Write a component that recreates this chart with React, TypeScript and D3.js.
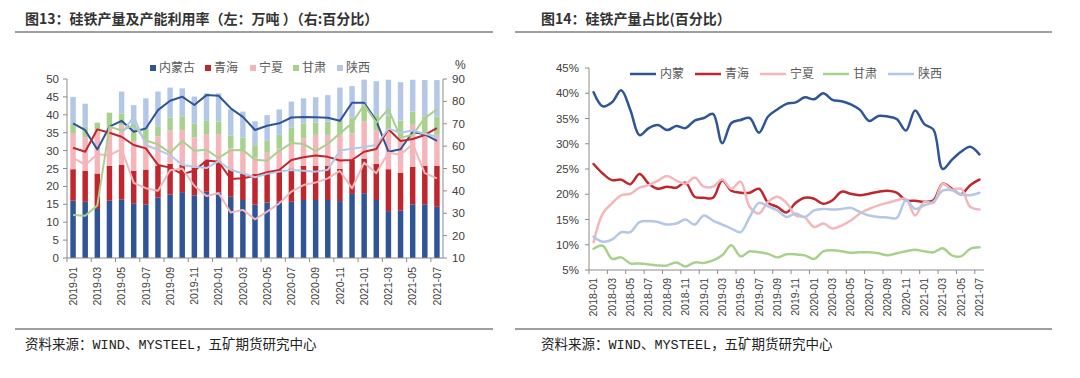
import React from 'react';
import * as d3 from 'd3';

// ---------- Left chart data (图13) ----------
const cats1 = ['2019-01','2019-02','2019-03','2019-04','2019-05','2019-06','2019-07','2019-08','2019-09','2019-10','2019-11','2019-12',
  '2020-01','2020-02','2020-03','2020-04','2020-05','2020-06','2020-07','2020-08','2020-09','2020-10','2020-11','2020-12',
  '2021-01','2021-02','2021-03','2021-04','2021-05','2021-06','2021-07'];
const prodNM = [16.0,15.7,13.7,16.0,16.4,15.3,15.0,16.9,17.7,18.4,17.5,18.5,18.3,17.1,16.2,14.9,15.5,15.8,15.7,16.2,16.2,16.2,15.9,17.9,18.1,16.2,13.1,13.2,15.0,15.0,14.3];
const prodQH = [8.8,8.6,9.9,9.7,9.6,9.1,9.7,8.8,8.6,7.6,7.8,8.6,8.8,7.7,7.4,8.6,8.1,8.8,9.3,9.5,9.5,9.5,9.0,9.5,9.7,10.1,11.7,10.6,10.5,10.7,11.4];
const prodNX = [9.9,9.4,11.7,11.0,11.0,8.1,8.3,8.3,9.3,9.7,8.4,7.5,7.5,5.8,6.6,4.7,5.8,6.0,7.2,7.7,8.7,8.7,9.5,7.4,10.3,9.5,10.5,10.1,11.7,9.1,8.7];
const prodGS = [2.7,3.0,2.5,3.9,3.3,2.8,3.0,2.8,3.6,3.9,3.8,3.7,3.5,3.6,3.4,3.3,3.3,3.8,4.3,4.2,3.4,3.7,4.1,4.4,4.2,4.1,4.5,4.5,3.7,4.7,5.1];
const prodSX = [7.6,6.4,0,0,6.2,7.4,8.6,9.7,8.4,7.8,7.6,7.7,7.9,7.3,7.3,6.7,7.2,7.1,7.2,7.0,7.1,7.4,9.1,8.8,7.5,9.5,10.0,10.7,8.9,10.2,10.2];

const utilNM = [70.2,67.1,58.5,68.7,71.3,66.4,67.9,76.1,80.3,82.1,78.4,82.8,82.5,76.9,73.1,67.2,69.1,70.2,72.8,73.0,72.9,72.7,71.3,79.4,79.4,71.3,57.5,58.6,66.3,65.3,62.3];
const utilQH = [59.3,57.5,67.5,66.0,64.2,60.5,59.0,51.6,50.4,47.5,49.0,53.6,53.0,45.3,45.6,46.7,48.3,49.3,53.8,55.0,55.8,55.2,53.6,53.8,57.5,58.7,67.5,62.3,63.2,65.0,68.0];
const utilNX = [54.8,51.6,56.4,55.9,58.8,43.6,41.2,40.1,49.2,50.0,42.3,37.7,38.9,30.3,31.5,27.3,30.7,34.4,39.7,42.6,43.7,45.6,48.9,41.1,52.6,47.9,57.1,56.1,61.0,47.9,45.6];
const utilGS = [29.2,28.9,33.5,68.7,67.0,69.4,62.5,60.8,57.0,62.3,57.9,58.4,54.7,58.2,58.3,53.9,53.5,57.9,61.4,61.0,57.8,61.0,65.7,70.2,78.5,70.5,76.5,63.8,65.0,72.5,76.5];
const utilSX: (number | null)[] = [null,null,null,null,65.5,73.2,60.5,58.3,56.0,51.6,50.8,50.2,53.3,49.3,47.9,46.1,47.6,48.6,49.3,49.0,48.6,49.4,58.0,58.8,59.6,60.5,67.8,66.0,67.0,65.5,64.2];

const names1 = ['内蒙古','青海','宁夏','甘肃','陕西'];
const leftTicks = [0,5,10,15,20,25,30,35,40,45,50];
const rightTicks = [10,20,30,40,50,60,70,80,90];

// ---------- Right chart data (图14) ----------
const cats2 = ['2018-01','2018-02','2018-03','2018-04','2018-05','2018-06','2018-07','2018-08','2018-09','2018-10','2018-11','2018-12',
  '2019-01','2019-02','2019-03','2019-04','2019-05','2019-06','2019-07','2019-08','2019-09','2019-10','2019-11','2019-12',
  '2020-01','2020-02','2020-03','2020-04','2020-05','2020-06','2020-07','2020-08','2020-09','2020-10','2020-11','2020-12',
  '2021-01','2021-02','2021-03','2021-04','2021-05','2021-06','2021-07'];
const shareNM = [40.2,37.4,38.2,40.6,36.7,31.7,33.1,33.7,32.7,33.5,33.1,34.6,35.1,35.9,30.1,34.1,34.7,35.1,32.2,35.4,36.8,37.9,38.2,39.2,38.8,40.0,38.7,38.4,37.8,36.7,34.5,35.5,35.4,34.9,32.6,36.6,33.9,32.8,25.0,26.8,28.4,29.4,27.9];
const shareQH = [26.0,24.1,22.8,22.9,22.0,24.0,22.1,21.1,21.5,21.3,22.3,19.5,19.3,19.3,22.7,20.7,20.3,20.3,21.1,18.3,17.5,16.4,18.3,19.3,19.1,18.1,18.8,20.5,20.1,19.8,20.1,20.5,20.7,20.3,18.8,18.7,18.5,18.8,22.1,21.1,20.0,21.8,22.9];
const shareNX = [10.5,16.2,18.2,19.8,20.1,21.3,21.8,22.7,23.6,22.7,22.1,23.3,21.5,21.5,22.9,21.1,22.5,17.5,16.2,18.5,19.5,18.3,15.8,15.4,13.5,14.2,13.2,13.8,14.8,16.2,17.1,17.8,18.3,18.8,19.1,15.8,18.5,18.3,22.1,20.9,21.1,17.5,17.0];
const shareGS = [9.2,9.8,7.2,7.5,6.3,6.3,6.1,5.9,5.9,6.5,5.7,6.5,6.4,6.9,7.9,9.9,7.7,8.7,8.5,8.2,7.5,8.1,8.1,7.9,7.2,8.7,8.9,8.7,8.4,8.5,8.5,8.3,7.9,8.3,8.7,9.0,8.7,8.5,9.3,7.9,7.7,9.2,9.5];
const shareSX = [11.6,10.6,11.0,12.5,12.5,14.5,14.7,14.5,14.0,14.2,15.0,14.0,15.8,14.8,14.0,13.2,12.5,15.5,18.3,17.6,16.8,15.5,16.2,15.5,16.8,17.1,17.0,17.1,17.3,16.5,15.8,15.5,15.4,15.3,18.8,17.1,17.8,18.5,20.7,20.8,20.0,19.8,20.3];
const names2 = ['内蒙','青海','宁夏','甘肃','陕西'];
const shareTicks = [5,10,15,20,25,30,35,40,45];

// ---------- styles ----------
const colors = ['#2F5597', '#C0262D', '#F4B6BA', '#A9D18E', '#B4C7E7'];
const CJK = "'Noto Sans CJK SC', 'Noto Sans', sans-serif";
const NUM = "'Liberation Sans', Arial, sans-serif";
const MONO = "'Liberation Mono', 'DejaVu Sans Mono', monospace";
const AXIS = '#8C8C8C';
const TXT = '#404040';

function Footer({ x }: { x: number }) {
  return (
    <text x={x} y={349} fontSize={13.5} fill="#222" fontFamily={CJK}>
      <tspan>资料来源：</tspan>
      <tspan fontFamily={MONO}>WIND</tspan>
      <tspan>、</tspan>
      <tspan fontFamily={MONO}>MYSTEEL</tspan>
      <tspan>，五矿期货研究中心</tspan>
    </text>
  );
}

function LeftChart() {
  const x0 = 67, x1 = 443, yTop = 79, yBot = 258;
  const x = d3.scaleBand<string>().domain(cats1).range([x0, x1]).paddingInner(0.55).paddingOuter(0.275);
  const yL = d3.scaleLinear().domain([0, 50]).range([yBot, yTop]);
  const yR = d3.scaleLinear().domain([10, 90]).range([yBot, yTop]);
  const prods = [prodNM, prodQH, prodNX, prodGS, prodSX];
  const utils: (number | null)[][] = [utilNM, utilQH, utilNX, utilGS, utilSX];
  const rows = cats1.map((c, i) => {
    const r: any = { cat: c };
    names1.forEach((n, k) => (r[n] = prods[k][i]));
    return r;
  });
  const stacked = d3.stack<any>().keys(names1)(rows);
  const cx = (c: string) => (x(c) as number) + x.bandwidth() / 2;
  const step = x.step();
  const line = d3.line<number | null>()
    .defined((d) => d != null)
    .x((_, i) => cx(cats1[i]))
    .y((d) => yR(d as number));
  const tickIdx = d3.range(0, cats1.length + 1, 2);
  const legX = [150, 205, 250, 293, 337];
  return (
    <g>
      {stacked.map((s, k) => (
        <g key={k} fill={colors[k]}>
          {s.map((d, i) => (
            <rect key={i} x={x(cats1[i])} width={x.bandwidth()} y={yL(d[1])} height={Math.max(0, yL(d[0]) - yL(d[1]))} />
          ))}
        </g>
      ))}
      {utils.map((u, k) => (
        <path key={k} d={line(u) || ''} fill="none" stroke={colors[k]} strokeWidth={2} strokeLinejoin="round" />
      ))}
      <line x1={x0} x2={x0} y1={yTop} y2={yBot} stroke={AXIS} />
      <line x1={x1} x2={x1} y1={yTop} y2={yBot} stroke={AXIS} />
      <line x1={x0} x2={x1} y1={yBot} y2={yBot} stroke={AXIS} />
      {leftTicks.map((t) => (
        <g key={t}>
          <line x1={x0 - 4} x2={x0} y1={yL(t)} y2={yL(t)} stroke={AXIS} />
          <text x={x0 - 8} y={yL(t)} dy="0.35em" textAnchor="end" fontSize={11.5} fill={TXT} fontFamily={NUM}>{t}</text>
        </g>
      ))}
      {rightTicks.map((t) => (
        <g key={t}>
          <line x1={x1} x2={x1 + 4} y1={yR(t)} y2={yR(t)} stroke={AXIS} />
          <text x={x1 + 9} y={yR(t)} dy="0.35em" fontSize={11.5} fill={TXT} fontFamily={NUM}>{t}</text>
        </g>
      ))}
      <text x={455} y={69} fontSize={12} fill={TXT} fontFamily={NUM}>%</text>
      {tickIdx.map((i) => (
        <line key={i} x1={x0 + i * step} x2={x0 + i * step} y1={yBot} y2={yBot + 4} stroke={AXIS} />
      ))}
      {cats1.map((c, i) => i % 2 === 0 ? (
        <text key={c} transform={`translate(${cx(c)},${yBot + 9}) rotate(-90)`} dy="0.35em" textAnchor="end"
          fontSize={10.5} fill={TXT} fontFamily={NUM}>{c}</text>
      ) : null)}
      {names1.map((n, k) => (
        <g key={n}>
          <rect x={legX[k]} y={65} width={6} height={6} fill={colors[k]} />
          <text x={legX[k] + 9} y={68} dy="0.35em" fontSize={12} fill="#595959" fontFamily={CJK}>{n}</text>
        </g>
      ))}
    </g>
  );
}

function RightChart() {
  const x0 = 589, x1 = 984, yTop = 68, yBot = 270;
  const x = d3.scalePoint<string>().domain(cats2).range([x0, x1]).padding(0.5);
  const step = x.step();
  const y = d3.scaleLinear().domain([5, 45]).range([yBot, yTop]);
  const series = [shareNM, shareQH, shareNX, shareGS, shareSX];
  const line = d3.line<number>()
    .x((_, i) => x(cats2[i]) as number)
    .y((d) => y(d))
    .curve(d3.curveCatmullRom.alpha(0.5));
  const tickIdx = d3.range(0, cats2.length + 1, 2);
  const legX = [630, 695, 760, 823, 888];
  return (
    <g>
      {series.map((s, k) => (
        <path key={k} d={line(s) || ''} fill="none" stroke={colors[k]} strokeWidth={2.5} strokeLinejoin="round" strokeLinecap="round" />
      ))}
      <line x1={x0} x2={x0} y1={yTop} y2={yBot} stroke={AXIS} />
      <line x1={x0} x2={x1} y1={yBot} y2={yBot} stroke={AXIS} />
      {shareTicks.map((t) => (
        <g key={t}>
          <line x1={x0 - 4} x2={x0} y1={y(t)} y2={y(t)} stroke={AXIS} />
          <text x={x0 - 10} y={y(t)} dy="0.35em" textAnchor="end" fontSize={11.5} fill={TXT} fontFamily={NUM}>{t}%</text>
        </g>
      ))}
      {tickIdx.map((i) => (
        <line key={i} x1={x0 + i * step} x2={x0 + i * step} y1={yBot} y2={yBot + 4} stroke={AXIS} />
      ))}
      {cats2.map((c, i) => i % 2 === 0 ? (
        <text key={c} transform={`translate(${x(c)},${yBot + 8}) rotate(-90)`} dy="0.35em" textAnchor="end"
          fontSize={10.5} fill={TXT} fontFamily={NUM}>{c}</text>
      ) : null)}
      {names2.map((n, k) => (
        <g key={n}>
          <line x1={legX[k]} x2={legX[k] + 26} y1={74} y2={74} stroke={colors[k]} strokeWidth={2.5} />
          <text x={legX[k] + 30} y={74} dy="0.35em" fontSize={12} fill="#595959" fontFamily={CJK}>{n}</text>
        </g>
      ))}
    </g>
  );
}

export default function App() {
  return (
    <svg width={1080} height={378} style={{ position: 'absolute', left: 0, top: 0, background: '#fff' }}>
      <rect width={1080} height={378} fill="#fff" />
      <text x={25} y={24} fontSize={14} fontWeight="bold" fill="#333" fontFamily={CJK}>图13：硅铁产量及产能利用率（左：万吨 ）（右:百分比）</text>
      <line x1={15} x2={493} y1={32} y2={32} stroke="#7F7F7F" strokeWidth={1.5} />
      <text x={541} y={24} fontSize={14} fontWeight="bold" fill="#333" fontFamily={CJK}>图14：硅铁产量占比(百分比）</text>
      <line x1={515} x2={1052} y1={32} y2={32} stroke="#7F7F7F" strokeWidth={1.5} />
      <LeftChart />
      <RightChart />
      <line x1={15} x2={493} y1={329} y2={329} stroke="#7F7F7F" strokeWidth={1.5} />
      <line x1={515} x2={1052} y1={329} y2={329} stroke="#7F7F7F" strokeWidth={1.5} />
      <Footer x={25} />
      <Footer x={541} />
    </svg>
  );
}
